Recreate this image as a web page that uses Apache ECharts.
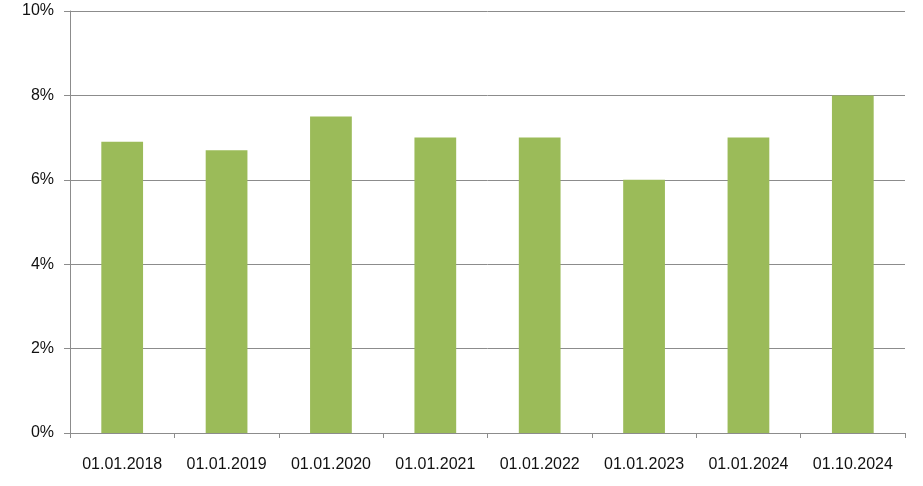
<!DOCTYPE html>
<html>
<head>
<meta charset="utf-8">
<script src="https://cdn.jsdelivr.net/npm/echarts@6/dist/echarts.min.js"></script>
<style>
	html, body { margin: 0; padding: 0; background: #fff; }
	#chart { width: 923px; height: 486px; }
</style>
</head>
<body>
<div id="chart"></div>
<script>
const categories = ['01.01.2018', '01.01.2019', '01.01.2020', '01.01.2021', '01.01.2022', '01.01.2023', '01.01.2024', '01.10.2024']
const values = [6.9, 6.7, 7.5, 7.0, 7.0, 6.0, 7.0, 8.0]

const textStyle = {
	color: '#111',
	fontFamily: "'Liberation Sans', Arial, sans-serif",
	fontSize: 16,
}

const chart = echarts.init(document.getElementById('chart'))
chart.setOption({
	animation: false,
	grid: {
		left: 70,
		right: 18,
		top: 11,
		bottom: 53,
	},
	xAxis: {
		type: 'category',
		data: categories,
		axisLine: { lineStyle: { color: '#8c8c8c', width: 1 } },
		axisTick: { show: true, length: 5, lineStyle: { color: '#8c8c8c' } },
		axisLabel: { ...textStyle, margin: 24 },
	},
	yAxis: {
		type: 'value',
		min: 0,
		max: 10,
		interval: 2,
		axisLine: { show: true, lineStyle: { color: '#8c8c8c', width: 1 } },
		axisTick: { show: true, length: 6, lineStyle: { color: '#8c8c8c' } },
		splitLine: { show: true, lineStyle: { color: '#8c8c8c', width: 1 } },
		axisLabel: { ...textStyle, margin: 16, formatter: '{value}%' },
	},
	series: [
		{
			type: 'bar',
			data: values,
			barWidth: '40%',
			itemStyle: { color: '#9bbb59' },
		},
	],
})
</script>
</body>
</html>
